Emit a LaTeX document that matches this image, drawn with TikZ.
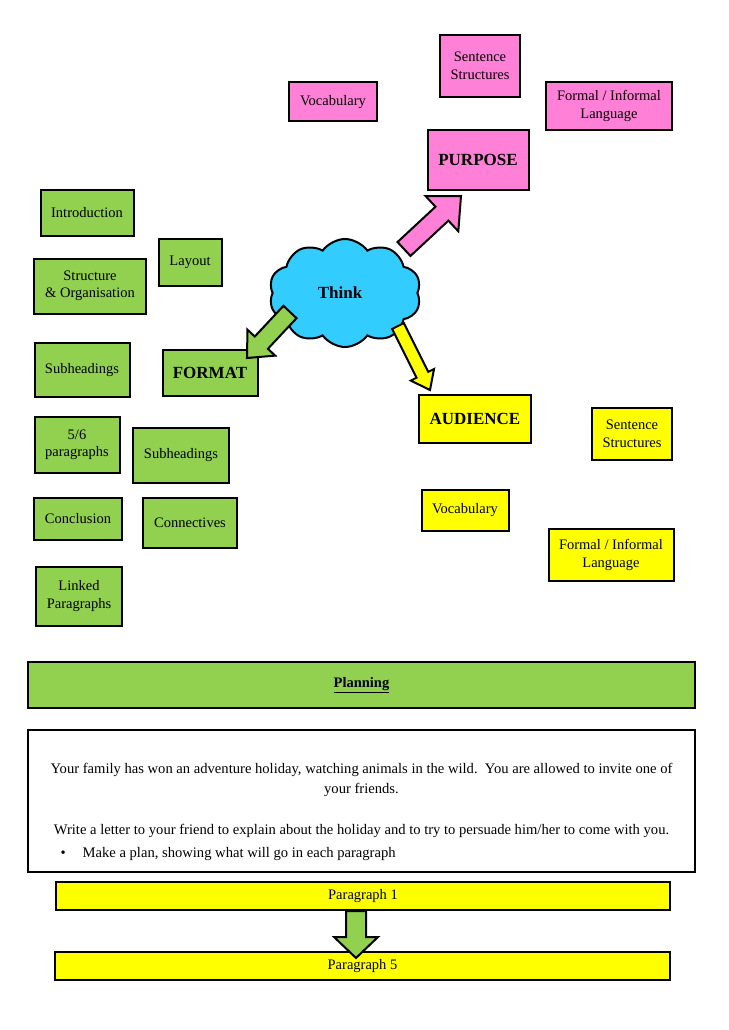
\documentclass[tikz,border=0pt]{standalone}
\usepackage{fontspec}
\setmainfont{Liberation Serif}
\usetikzlibrary{calc}
\usetikzlibrary{shapes.symbols}

\definecolor{purposepink}{RGB}{255,128,214}
\definecolor{formatgreen}{RGB}{146,208,80}
\definecolor{audienceyellow}{RGB}{255,255,0}
\definecolor{thinkblue}{RGB}{51,204,255}

% block arrow: tail, tip, colour, shaft half width, head half width, head length
\newcommand{\blockarrow}[6]{
    \coordinate (H) at ($(#2)!#6!(#1)$);
    \draw [line width=2pt, line join=miter, fill=#3]
        ($(#1)!#4!90:(#2)$) -- ($(H)!#4!-90:(#1)$) -- ($(H)!#5!-90:(#1)$)
        -- (#2) -- ($(H)!#5!90:(#1)$) -- ($(H)!#4!90:(#1)$)
        -- ($(#1)!#4!-90:(#2)$) -- cycle;
}

\begin{document}
\begin{tikzpicture}[x=1pt, y=-1pt,
    box/.style={draw, line width=2pt, align=center, inner sep=1pt,
        font=\fontsize{14.5}{17.5}\selectfont},
    headbox/.style={box, font=\fontsize{17}{20}\selectfont\bfseries},
    pinkbox/.style={box, fill=purposepink},
    greenbox/.style={box, fill=formatgreen},
    yellowbox/.style={box, fill=audienceyellow}]

    \useasboundingbox (0, 0) rectangle (728, 1030);

    % purpose
    \node [pinkbox, minimum width=80, minimum height=62] (PS) at (480, 66) {Sentence\\Structures};
    \node [pinkbox, minimum width=88, minimum height=39] (PV) at (333, 102) {Vocabulary};
    \node [pinkbox, minimum width=126, minimum height=48] (PF) at (609, 106) {Formal / Informal\\Language};
    \node [pinkbox, headbox, minimum width=101, minimum height=60] (PURPOSE) at (478, 160) {PURPOSE};

    % format
    \node [greenbox, minimum width=93, minimum height=46] (F1) at (87, 213) {Introduction};
    \node [greenbox, minimum width=63, minimum height=47] (F2) at (190, 262) {Layout};
    \node [greenbox, minimum width=112, minimum height=55] (F3) at (90, 286) {Structure\\\& Organisation};
    \node [greenbox, minimum width=95, minimum height=54] (F4) at (82, 370) {Subheadings};
    \node [greenbox, headbox, minimum width=95, minimum height=46] (FORMAT) at (210, 373) {FORMAT};
    \node [greenbox, minimum width=85, minimum height=56] (F5) at (77, 445) {5/6\\paragraphs};
    \node [greenbox, minimum width=96, minimum height=55] (F6) at (181, 455) {Subheadings};
    \node [greenbox, minimum width=88, minimum height=42] (F7) at (78, 519) {Conclusion};
    \node [greenbox, minimum width=94, minimum height=50] (F8) at (190, 523) {Connectives};
    \node [greenbox, minimum width=86, minimum height=59] (F9) at (79, 596) {Linked\\Paragraphs};

    % audience
    \node [yellowbox, headbox, minimum width=112, minimum height=48] (AUDIENCE) at (475, 419) {AUDIENCE};
    \node [yellowbox, minimum width=80, minimum height=52] (AS) at (632, 434) {Sentence\\Structures};
    \node [yellowbox, minimum width=87, minimum height=41] (AV) at (465, 510) {Vocabulary};
    \node [yellowbox, minimum width=125, minimum height=52] (AF) at (611, 555) {Formal / Informal\\Language};

    % think
    \node [cloud, cloud puffs=10, cloud puff arc=110, aspect=1.4, draw, line width=2pt,
        fill=thinkblue, minimum width=152, minimum height=108, inner sep=0pt] (THINK) at (345, 293) {};
    \node [font=\fontsize{17}{20}\selectfont\bfseries] (TT) at (340, 293) {Think};

    \coordinate (PT) at (404, 249);
    \coordinate (PH) at (461, 196);
    \coordinate (FT) at (290, 312);
    \coordinate (FH) at (247, 358);
    \coordinate (AT) at (398, 326);
    \coordinate (AH) at (430, 390);
    \blockarrow{PT}{PH}{purposepink}{9.5pt}{24pt}{26pt}
    \blockarrow{FT}{FH}{formatgreen}{9pt}{19pt}{21pt}
    \blockarrow{AT}{AH}{audienceyellow}{6.5pt}{13pt}{17pt}

    % planning
    \node [greenbox, minimum width=667, minimum height=46, font=\fontsize{14.5}{17}\selectfont\bfseries] (PLAN) at (361.5, 685) {\underline{Planning}};
    \node [box, fill=white, minimum width=667, minimum height=142] (TASK) at (361.5, 801) {};
    \node [font=\fontsize{14.6}{20}\selectfont, align=center] (T1) at (361.5, 780) {Your family has won an adventure holiday, watching animals in the wild.\ \ You are allowed to invite one of\\your friends.};
    \node [font=\fontsize{14.6}{17}\selectfont] (T2) at (361.5, 831) {Write a letter to your friend to explain about the holiday and to try to persuade him/her to come with you.};
    \node [font=\fontsize{14.6}{17}\selectfont, anchor=west] (T3) at (57, 854) {\textbullet\hspace{17pt}Make a plan, showing what will go in each paragraph};

    \node [yellowbox, minimum width=614, minimum height=28] (P1) at (363, 896) {Paragraph 1};
    \node [yellowbox, minimum width=615, minimum height=28] (P5) at (362.5, 966) {Paragraph 5};
    \coordinate (BT) at (356, 911);
    \coordinate (BH) at (356, 958);
    \blockarrow{BT}{BH}{formatgreen}{10pt}{22pt}{21pt}

\end{tikzpicture}
\end{document}
